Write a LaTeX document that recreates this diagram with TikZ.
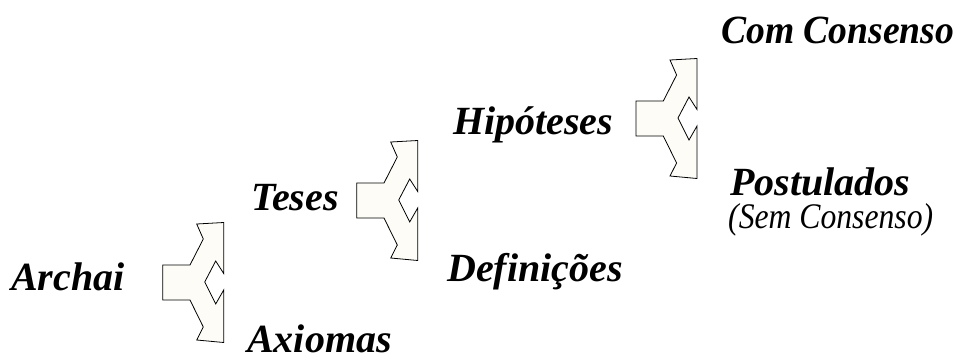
\documentclass[tikz,border=0pt]{standalone}
\usepackage{fontspec}
\setmainfont{Liberation Serif}
\newfontfamily\narrowserif[FakeStretch=0.94]{Liberation Serif}
\newfontfamily\slimserif[FakeStretch=0.88]{Liberation Serif}
\begin{document}
\begin{tikzpicture}[x=1pt,y=-1pt,
  lbl/.style={font=\fontsize{40}{40}\selectfont\bfseries\itshape, inner sep=0pt, anchor=base west},
  narrowlbl/.style={font=\narrowserif\fontsize{40}{40}\selectfont\bfseries\itshape, inner sep=0pt, anchor=base west},
  sublbl/.style={font=\slimserif\fontsize{36}{36}\selectfont\itshape, inner sep=0pt, anchor=base west},
  forkshape/.style={draw=black, line width=0.8pt, fill={rgb,255:red,253;green,252;blue,247}, line join=miter},
  fork/.pic={
    \path[forkshape] (0,-17.5) -- (27.3,-17.5) -- (40.6,-43.5) -- (34,-58.5) -- (61,-60)
      -- (61,-9) -- (53,-21.5) -- (42,-0.5) -- (53,21.5) -- (61,7.5)
      -- (61,60) -- (34,57.5) -- (40.6,44.5) -- (27.3,17.5) -- (0,17.5) -- cycle;
  }]
  \useasboundingbox (0,0) rectangle (964,359);

  % branching forks
  \pic (forkA) at (162.7,282.5) {fork};
  \pic (forkB) at (356.7,200.5) {fork};
  \pic (forkC) at (636,118.5) {fork};

  % labels
  \node[lbl] (archai) at (11,290) {Archai};
  \node[lbl] (axiomas) at (247,352) {Axiomas};
  \node[lbl] (teses) at (251,210) {Teses};
  \node[lbl] (definicoes) at (447,281.5) {Definições};
  \node[lbl] (hipoteses) at (453,134.5) {Hipóteses};
  \node[narrowlbl] (com) at (721,43) {Com Consenso};
  \node[lbl] (postulados) at (730,195) {Postulados};
  \node[sublbl] (sem) at (728,228) {(Sem Consenso)};
\end{tikzpicture}
\end{document}
